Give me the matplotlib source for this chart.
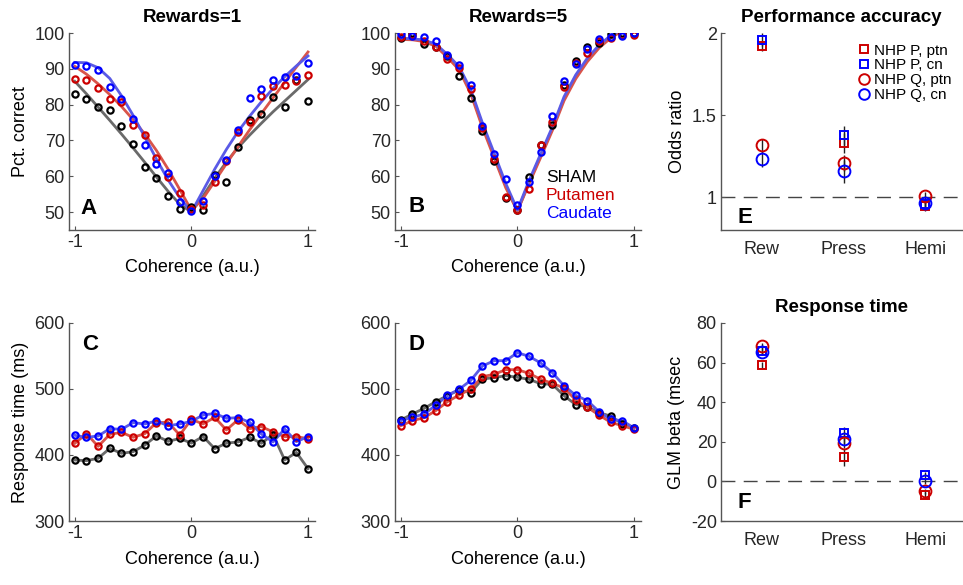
import numpy as np
import matplotlib
matplotlib.use('Agg')
import matplotlib.pyplot as plt
from matplotlib.lines import Line2D

plt.rcParams['font.family'] = ['Liberation Sans', 'DejaVu Sans']
plt.rcParams['axes.unicode_minus'] = False

# Coherence levels shared by panels A-D
coherence = [-1.0, -0.9, -0.8, -0.7, -0.6, -0.5, -0.4, -0.3, -0.2, -0.1, 0.0,
             0.1, 0.2, 0.3, 0.4, 0.5, 0.6, 0.7, 0.8, 0.9, 1.0]

# Panel A: pct. correct, rewards=1
acc1_sham = [83.1, 81.7, 79.4, 78.5, 74.0, 68.9, 62.7, 59.5, 54.5, 50.8, 51.5,
             50.5, 60.4, 58.4, 68.1, 75.6, 77.3, 82.0, 79.3, 87.0, 80.9]
acc1_put = [87.2, 87.0, 84.7, 81.5, 80.8, 74.3, 71.5, 65.0, 59.7, 55.3, 50.9,
            52.0, 58.4, 64.2, 72.5, 75.1, 82.3, 85.2, 85.6, 86.6, 88.3]
acc1_cau = [91.2, 90.7, 89.7, 84.8, 81.7, 76.0, 68.8, 63.5, 61.0, 52.7, 50.4,
            53.0, 60.1, 64.5, 72.9, 81.8, 84.3, 87.0, 87.6, 87.9, 91.6]
fit1_sham = [86.5, 83.0, 79.3, 75.6, 71.8, 67.9, 63.9, 59.8, 55.8, 52.2, 50.0,
             54.5, 59.5, 64.0, 68.0, 71.5, 74.8, 78.0, 81.0, 84.0, 87.0]
fit1_put = [90.7, 88.5, 85.8, 82.8, 79.5, 75.8, 71.8, 67.2, 62.0, 56.3, 50.5,
            53.8, 58.6, 63.5, 68.3, 73.0, 77.5, 81.9, 86.2, 90.5, 94.7]
fit1_cau = [91.8, 91.7, 90.3, 87.3, 82.5, 77.0, 71.0, 64.8, 59.0, 54.0, 50.0,
            56.0, 62.0, 67.5, 72.5, 76.8, 80.8, 84.5, 87.8, 90.8, 93.6]

# Panel B: pct. correct, rewards=5
acc5_sham = [98.6, 100.0, 96.9, 96.2, 93.6, 88.0, 81.9, 72.7, 64.4, 53.9, 50.6,
             59.9, 68.8, 74.2, 85.5, 92.2, 96.0, 97.3, 99.7, 99.9, 99.9]
acc5_put = [98.8, 99.5, 97.9, 96.1, 92.8, 90.1, 84.3, 73.4, 64.7, 54.2, 50.6,
            56.5, 68.8, 75.1, 84.9, 91.6, 94.5, 97.7, 98.6, 99.5, 99.5]
acc5_cau = [99.8, 99.3, 98.9, 97.7, 93.9, 91.0, 85.6, 73.9, 66.3, 59.1, 51.9,
            58.3, 66.9, 76.8, 86.5, 91.4, 95.6, 98.3, 98.9, 99.3, 99.9]
fit5_sham = [98.4, 98.3, 97.9, 96.7, 93.7, 90.2, 83.6, 74.2, 65.8, 57.3, 50.3,
             58.3, 65.8, 73.3, 81.7, 87.8, 92.5, 96.2, 99.0, 100.9, 102.0]
fit5_put = [98.2, 98.1, 97.6, 96.3, 93.2, 89.7, 83.0, 73.6, 65.2, 56.8, 50.3,
            57.9, 65.3, 72.8, 81.1, 87.2, 92.0, 95.8, 98.6, 100.6, 101.8]
fit5_cau = [98.5, 98.4, 98.0, 96.9, 94.0, 90.6, 84.2, 74.9, 66.5, 58.0, 50.6,
            58.8, 66.3, 73.8, 82.2, 88.3, 93.0, 96.6, 99.3, 101.1, 102.2]

# Panel C: response time (ms), rewards=1
rt1_sham = [392.4, 391.4, 395.0, 410.0, 402.5, 405.0, 415.0, 429.0, 420.7, 425.0, 418.0,
            428.0, 409.6, 418.0, 419.7, 426.8, 417.7, 431.0, 392.4, 404.0, 379.3]
rt1_put = [417.7, 432.3, 413.1, 431.3, 434.3, 426.8, 432.3, 449.0, 449.5, 430.3, 454.0,
           447.0, 457.0, 437.9, 453.5, 439.9, 443.0, 435.0, 427.8, 427.8, 424.7]
rt1_cau = [429.8, 426.8, 428.8, 439.9, 438.9, 449.0, 447.0, 451.5, 444.4, 447.0, 451.0,
           460.6, 463.0, 455.6, 456.6, 449.5, 431.8, 419.7, 439.4, 420.2, 427.8]

# Panel D: response time (ms), rewards=5
rt5_sham = [453.0, 462.1, 470.7, 480.8, 490.0, 498.5, 494.4, 515.2, 517.2, 520.2, 517.7,
            514.6, 508.0, 507.0, 489.9, 476.3, 473.2, 464.1, 459.0, 447.0, 440.4]
rt5_put = [444.4, 452.0, 456.6, 467.2, 480.8, 490.9, 500.0, 518.7, 522.2, 529.3, 529.3,
           523.7, 514.6, 508.6, 501.5, 483.3, 472.2, 460.6, 449.5, 444.4, 438.9]
rt5_cau = [452.0, 457.1, 462.1, 475.3, 490.4, 499.5, 513.1, 534.8, 542.9, 542.9, 555.0,
           549.5, 539.4, 524.7, 505.0, 490.4, 482.3, 465.7, 454.0, 452.0, 440.9]

# Panels E/F: regression effects per factor
factors = ['Rew', 'Press', 'Hemi']
group_labels = ['NHP P, ptn', 'NHP P, cn', 'NHP Q, ptn', 'NHP Q, cn']
odds = {
    'NHP P, ptn': [1.923, 1.329, 0.947],
    'NHP P, cn': [1.959, 1.376, 0.960],
    'NHP Q, ptn': [1.315, 1.207, 1.010],
    'NHP Q, cn': [1.232, 1.159, 0.963],
}
odds_err = {
    'NHP P, ptn': [0.03, 0.06, 0.03],
    'NHP P, cn': [0.04, 0.06, 0.03],
    'NHP Q, ptn': [0.04, 0.05, 0.02],
    'NHP Q, cn': [0.05, 0.07, 0.03],
}
beta = {
    'NHP P, ptn': [58.7, 12.1, -6.8],
    'NHP P, cn': [66.0, 24.3, 3.4],
    'NHP Q, ptn': [68.4, 19.6, -5.1],
    'NHP Q, cn': [65.5, 21.3, 0.3],
}
beta_err = {
    'NHP P, ptn': [1.5, 4.5, 1.5],
    'NHP P, cn': [2.0, 3.0, 1.5],
    'NHP Q, ptn': [1.5, 2.5, 1.5],
    'NHP Q, cn': [1.5, 2.5, 1.5],
}

# Colours
BLACK = '#000000'
RED = '#cc0000'
BLUE = '#0000ff'
GRAY_LINE = '#6a6a6a'
RED_LINE = '#d9544a'
BLUE_LINE = '#5a5ae6'
AXIS_COL = '#555555'
TEXT_COL = '#262626'

group_style = {
    'NHP P, ptn': dict(marker='s', color=RED, ms=6),
    'NHP P, cn': dict(marker='s', color=BLUE, ms=6),
    'NHP Q, ptn': dict(marker='o', color=RED, ms=8.5),
    'NHP Q, cn': dict(marker='o', color=BLUE, ms=8.5),
}


def style_axes(ax):
    for side in ['top', 'right']:
        ax.spines[side].set_visible(False)
    for side in ['left', 'bottom']:
        ax.spines[side].set_color(AXIS_COL)
        ax.spines[side].set_linewidth(1.0)
    ax.tick_params(direction='in', length=3, width=0.8, color=AXIS_COL,
                   labelsize=13, labelcolor=TEXT_COL, pad=3)


def panel_letter(ax, letter, x, y):
    ax.text(x, y, letter, transform=ax.transAxes, ha='left', va='center',
            fontsize=16, fontweight='bold', color='black')


def scatter_pts(ax, y, col):
    ax.plot(coherence, y, 'o', ms=4.5, mfc='none', mec=col, mew=1.6, zorder=4)


def add_axes(left, right, top, bottom):
    return fig.add_axes([left / 963, 1 - bottom / 585,
                         (right - left) / 963, (bottom - top) / 585])


if __name__ == '__main__':

    fig = plt.figure(figsize=(9.63, 5.85), dpi=100)

    ax_a = add_axes(69, 315, 33, 230)
    ax_b = add_axes(395, 641, 33, 230)
    ax_e = add_axes(721, 962, 33, 230)
    ax_c = add_axes(69, 315, 323, 521)
    ax_d = add_axes(395, 641, 323, 521)
    ax_f = add_axes(721, 962, 323, 521)

    # Psychometric panels
    for ax, fits, pts, title in [
        (ax_a, (fit1_sham, fit1_put, fit1_cau), (acc1_sham, acc1_put, acc1_cau), 'Rewards=1'),
        (ax_b, (fit5_sham, fit5_put, fit5_cau), (acc5_sham, acc5_put, acc5_cau), 'Rewards=5'),
    ]:
        for f, col in zip(fits, (GRAY_LINE, RED_LINE, BLUE_LINE)):
            ax.plot(coherence, f, '-', color=col, lw=2.0, zorder=3)
        for p, col in zip(pts, (BLACK, RED, BLUE)):
            scatter_pts(ax, p, col)
        ax.set_xlim(-1.05, 1.06)
        ax.set_ylim(45, 100)
        ax.set_yticks([50, 60, 70, 80, 90, 100])
        ax.set_xticks([-1, 0, 1])
        ax.set_xlabel('Coherence (a.u.)', fontsize=13, labelpad=6)
        ax.set_title(title, fontsize=13.5, fontweight='bold', pad=8)
        style_axes(ax)
    ax_a.set_ylabel('Pct. correct', fontsize=13)
    panel_letter(ax_a, 'A', 0.045, 0.107)
    panel_letter(ax_b, 'B', 0.053, 0.117)

    # Legend text in B
    for txt, col, yy in [('SHAM', BLACK, 0.269), ('Putamen', RED, 0.173),
                         ('Caudate', BLUE, 0.086)]:
        ax_b.text(0.614, yy, txt, color=col, fontsize=12.5,
                  transform=ax_b.transAxes, ha='left', va='center')

    # Response time panels
    for ax, pts in [(ax_c, (rt1_sham, rt1_put, rt1_cau)),
                    (ax_d, (rt5_sham, rt5_put, rt5_cau))]:
        for p, lcol, mcol in zip(pts, (GRAY_LINE, RED_LINE, BLUE_LINE), (BLACK, RED, BLUE)):
            ax.plot(coherence, p, '-', color=lcol, lw=2.0, zorder=3)
            scatter_pts(ax, p, mcol)
        ax.set_xlim(-1.05, 1.06)
        ax.set_ylim(300, 600)
        ax.set_yticks([300, 400, 500, 600])
        ax.set_xticks([-1, 0, 1])
        ax.set_xlabel('Coherence (a.u.)', fontsize=13, labelpad=6)
        style_axes(ax)
    ax_c.set_ylabel('Response time (ms)', fontsize=13)
    panel_letter(ax_c, 'C', 0.053, 0.889)
    panel_letter(ax_d, 'D', 0.053, 0.889)

    # Regression panels
    xpos = np.arange(1, len(factors) + 1)
    for ax, vals, errs, ref in [(ax_e, odds, odds_err, 1.0), (ax_f, beta, beta_err, 0.0)]:
        ax.axhline(ref, color='#444444', lw=1.0, ls=(0, (10, 6)), zorder=1)
        for g in group_labels:
            ax.errorbar(xpos, vals[g], yerr=errs[g], fmt='none', ecolor='#222222',
                        elinewidth=1.0, capsize=0, zorder=2)
        for g in group_labels:
            st = group_style[g]
            ax.plot(xpos, vals[g], ls='none', marker=st['marker'], ms=st['ms'],
                    mfc='none', mec=st['color'], mew=1.4, zorder=3)
        ax.set_xlim(0.5, 3.45)
        ax.set_xticks(xpos)
        ax.set_xticklabels(factors)
        style_axes(ax)
        ax.tick_params(axis='x', length=0, pad=8)

    ax_e.set_ylim(0.8, 2.0)
    ax_e.set_yticks([1, 1.5, 2])
    ax_e.set_yticklabels(['1', '1.5', '2'])
    ax_e.set_ylabel('Odds ratio', fontsize=13)
    ax_e.set_title('Performance accuracy', fontsize=13.5, fontweight='bold', pad=8)
    panel_letter(ax_e, 'E', 0.07, 0.061)

    ax_f.set_ylim(-20, 80)
    ax_f.set_yticks([-20, 0, 20, 40, 60, 80])
    ax_f.set_ylabel('GLM beta (msec', fontsize=13)
    ax_f.set_title('Response time', fontsize=13.5, fontweight='bold', pad=8)
    panel_letter(ax_f, 'F', 0.07, 0.091)

    handles = [Line2D([], [], ls='none', marker=group_style[g]['marker'],
                      ms=group_style[g]['ms'] * 0.9, mfc='none',
                      mec=group_style[g]['color'], mew=1.4) for g in group_labels]
    ax_e.legend(handles, group_labels, loc='upper right', frameon=False,
                fontsize=11, handlelength=0.8, handletextpad=0.25,
                labelspacing=0.05, borderaxespad=0.5, borderpad=0.2)

    fig.savefig('out.png', dpi=100)
